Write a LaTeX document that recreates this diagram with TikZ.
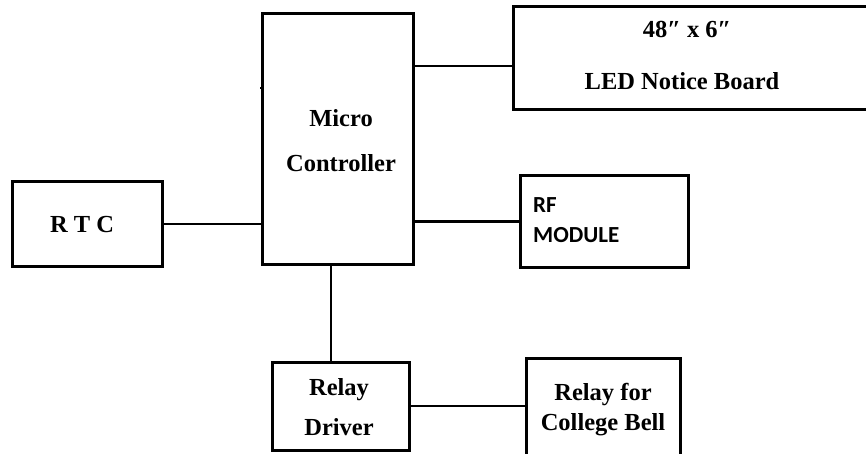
\documentclass[tikz,border=0pt]{standalone}
\usepackage{fontspec}
\setmainfont{Liberation Serif}
\newfontfamily\calib{Carlito}
\begin{document}
\begin{tikzpicture}[x=1pt,y=-1pt,
  blk/.style={draw=black,line width=3pt,rectangle,inner sep=0pt,outer sep=0pt,anchor=north west},
  wire/.style={draw=black,line width=2.4pt},
  lbl/.style={anchor=base,inner sep=0pt,font=\fontsize{24.5}{28}\selectfont\bfseries},
  rflbl/.style={anchor=base west,inner sep=0pt,font=\calib\fontsize{23}{27}\selectfont\bfseries}]
\useasboundingbox[fill=white] (0,0) rectangle (866,454);
% boxes
\node[blk,minimum width=150.5pt,minimum height=250pt] (mc) at (262.5,14) {};
\node[blk,minimum width=370pt,minimum height=103pt] (led) at (513,7) {};
\node[blk,minimum width=150pt,minimum height=84pt] (rtc) at (12,182) {};
\node[blk,minimum width=168pt,minimum height=91pt] (rf) at (520,176) {};
\node[blk,minimum width=137pt,minimum height=88pt] (rd) at (272,362) {};
\node[blk,minimum width=154pt,minimum height=120pt] (bell) at (526,358) {};
% labels
\node[lbl] (t1) at (341,127) {Micro};
\node[lbl] (t2) at (341,172) {Controller};
\node[lbl] (t3) at (687,38) {48″ x 6″};
\node[lbl] (t4) at (682,90) {LED Notice Board};
\node[lbl] (t5) at (82,233) {R T C};
\node[rflbl] (t6) at (533,212) {RF};
\node[rflbl] (t7) at (533,242) {MODULE};
\node[lbl] (t8) at (339,395) {Relay};
\node[lbl] (t9) at (339,435) {Driver};
\node[lbl] (t10) at (603,400) {Relay for};
\node[lbl] (t11) at (603,430) {College Bell};
% connectors
\coordinate (yled) at (0,66);
\coordinate (xrd) at (331,0);
\coordinate (ytick) at (0,88);
\draw[wire] (mc.east |- yled) -- (led.west |- yled);
\draw[wire] (rtc.east) -- (rtc.east -| mc.west);
\draw[wire] (mc.east |- rf.west) -- (rf.west);
\draw[wire] (mc.south -| xrd) -- (rd.north -| xrd);
\draw[wire] (rd.east) -- (rd.east -| bell.west);
\draw[line width=2pt] (mc.west |- ytick) -- ++(-3,0);
\end{tikzpicture}
\end{document}
